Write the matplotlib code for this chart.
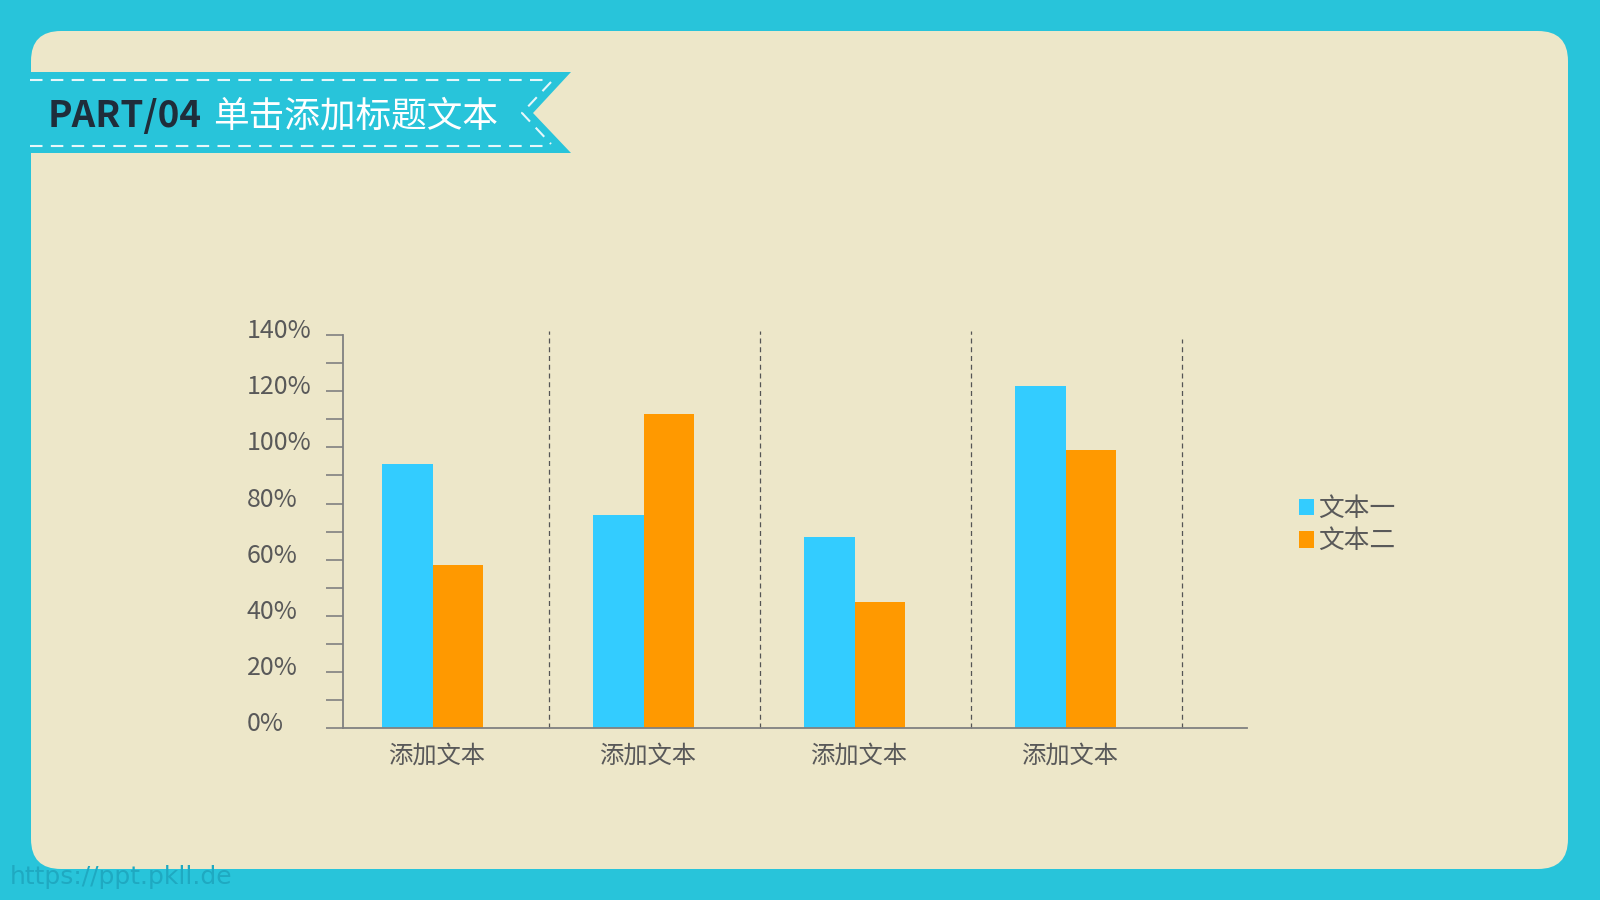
import numpy as np
import matplotlib
matplotlib.use("Agg")
import matplotlib.pyplot as plt
from matplotlib.patches import FancyBboxPatch, Polygon, Patch
from matplotlib.transforms import ScaledTranslation

plt.rcParams['font.family'] = ['Noto Sans CJK SC', 'DejaVu Sans']

# data
categories = ['添加文本', '添加文本', '添加文本', '添加文本']
series_names = ['文本一', '文本二']
series1 = [0.94, 0.76, 0.68, 1.22]
series2 = [0.58, 1.12, 0.45, 0.99]
yticks = [0, 0.2, 0.4, 0.6, 0.8, 1.0, 1.2, 1.4]
ytick_labels = ['0%', '20%', '40%', '60%', '80%', '100%', '120%', '140%']

CYAN = '#28C4DA'
CARD = '#EDE7C9'
BLUE = '#33CCFF'
ORANGE = '#FF9900'
GRAY = '#595959'

fig = plt.figure(figsize=(16, 9), dpi=100)
fig.patch.set_facecolor(CYAN)

# background layer in pixel coords
bg = fig.add_axes([0, 0, 1, 1])
bg.set_xlim(0, 1600)
bg.set_ylim(900, 0)
bg.axis('off')

card = FancyBboxPatch((31, 31), 1537, 838, boxstyle='round,pad=0,rounding_size=30',
                      facecolor=CARD, edgecolor='none')
bg.add_patch(card)

# title ribbon
ribbon = Polygon([(0, 72), (571, 72), (533, 113), (571, 153), (0, 153)],
                 closed=True, facecolor=CYAN, edgecolor='none')
bg.add_patch(ribbon)
dash_kw = dict(color='#E6F7FA', lw=1.5, linestyle=(0, (6, 4)))
bg.plot([30, 548], [80, 80], **dash_kw)
bg.plot([30, 548], [146, 146], **dash_kw)
bg.plot([551, 522, 551], [82, 113, 144], **dash_kw)

bg.text(48, 116, 'PART/04', fontsize=26.5, fontweight='bold', color='#1F2D3A',
        ha='left', va='center')
bg.text(213, 116, '单击添加标题文本', fontsize=25.7, color='white', ha='left', va='center')

bg.text(10, 877, 'https://ppt.pkll.de', fontsize=18, color='#1FA9C1',
        family=['DejaVu Sans'], ha='left', va='center')

# chart
ax = fig.add_axes([343 / 1600, 171.7 / 900, (1247 - 343) / 1600, (565 - 171.7) / 900])
ax.patch.set_alpha(0)

x = np.arange(len(categories))
w = 0.238
shift = -0.05
ax.bar(x + shift - w / 2, series1, w, color=BLUE, label=series_names[0])
ax.bar(x + shift + w / 2, series2, w, color=ORANGE, label=series_names[1])

sep_kw = dict(color='#555555', lw=0.9, linestyle=(0, (4, 3)), clip_on=False)
for sep in x[:-1] + 0.5:
    ax.axvline(sep, ymax=1.01, **sep_kw)
ax.axvline(x[-1] + 0.5, ymax=0.99, **sep_kw)

ax.set_xlim(-0.475, 3.81)
ax.set_ylim(0, 1.4)

for s in ['top', 'right']:
    ax.spines[s].set_visible(False)
for s in ['left', 'bottom']:
    ax.spines[s].set_color('#808080')
    ax.spines[s].set_linewidth(1.3)

ax.set_yticks(yticks)
ax.set_yticklabels(ytick_labels)
ax.set_yticks(np.arange(0.1, 1.4, 0.2), minor=True)
ax.tick_params(axis='y', which='both', direction='out', length=12.5, width=1.2,
               color='#808080', labelsize=18, labelcolor=GRAY, pad=57)
for lab in ax.get_yticklabels():
    lab.set_horizontalalignment('left')
    lab.set_transform(lab.get_transform() + ScaledTranslation(0, 0.07, fig.dpi_scale_trans))

ax.set_xticks(x)
ax.set_xticklabels(categories)
ax.tick_params(axis='x', length=0, labelsize=17.5, labelcolor=GRAY, pad=10)
for lab in ax.get_xticklabels():
    lab.set_transform(lab.get_transform() + ScaledTranslation(-0.07, 0, fig.dpi_scale_trans))

handles = [Patch(facecolor=BLUE, label=series_names[0]),
           Patch(facecolor=ORANGE, label=series_names[1])]
leg = ax.legend(handles=handles, loc='upper left', bbox_to_anchor=(1299 / 1600, 1 - 496 / 900),
                bbox_transform=fig.transFigure, frameon=False, fontsize=18.5,
                handlelength=0.6, handleheight=0.6, handletextpad=0.15,
                labelspacing=0.25, borderpad=0, borderaxespad=0)
for t in leg.get_texts():
    t.set_color(GRAY)

fig.savefig('out.png', dpi=100, facecolor=fig.get_facecolor())
